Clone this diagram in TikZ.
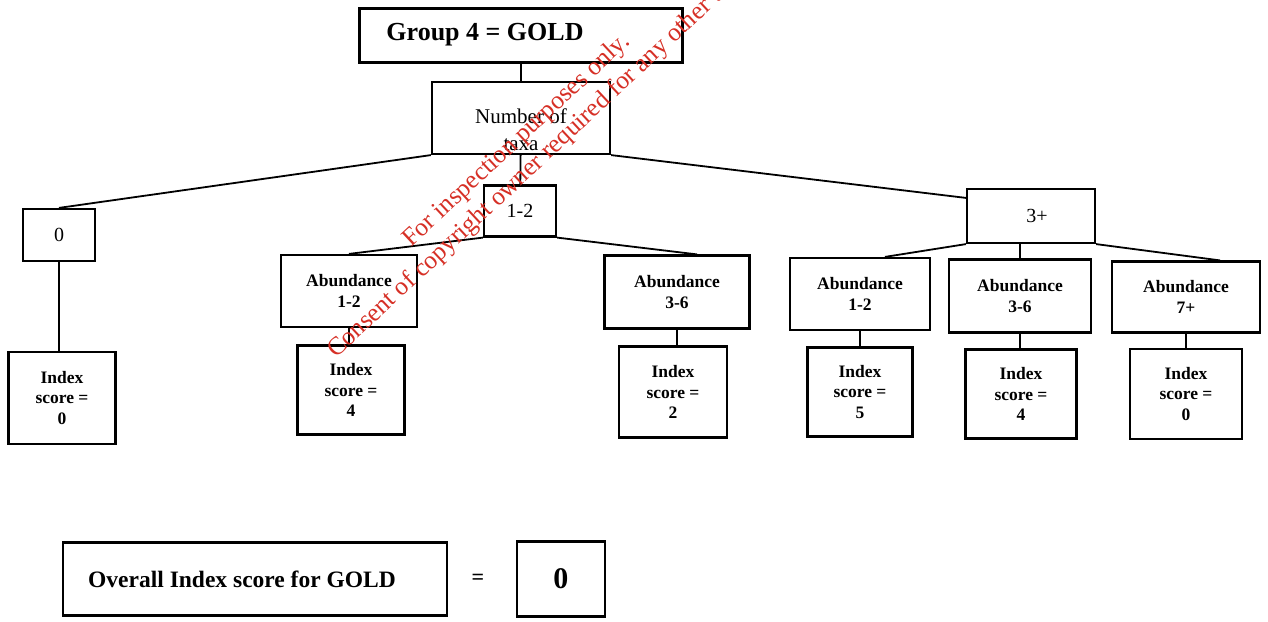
\documentclass[tikz,border=0pt]{standalone}
\usepackage{fontspec}
\setmainfont{Liberation Serif}
\usetikzlibrary{positioning}
\definecolor{stampred}{RGB}{214,48,38}

\begin{document}
\begin{tikzpicture}[
    x=1pt, y=-1pt,
    box/.style={draw, line width=2.2pt, align=center, inner sep=2pt},
    small/.style={font=\fontsize{17.5}{20.5}\selectfont\bfseries},
    plain/.style={font=\fontsize{20}{24}\selectfont},
    link/.style={line width=1.8pt},
    stamp/.style={text=stampred, font=\fontsize{25.5}{30}\selectfont, align=center, rotate=43, inner sep=0pt}
  ]
    \useasboundingbox (0,0) rectangle (1268,621);

    % tree
    \node[box, line width=3pt, minimum width=323pt, minimum height=54pt, font=\fontsize{26}{30}\selectfont\bfseries] (group) at (521,35) {Group 4 = GOLD\hspace*{72pt}};
    \node[box, inner ysep=0pt, minimum width=178pt, minimum height=72pt, font=\fontsize{21}{27}\selectfont] (taxa) at (521,118) {\rule{0pt}{38pt}Number of\\taxa};
    \node[box, plain, minimum width=72pt, minimum height=52pt] (none) at (59,235) {0};
    \node[box, plain, minimum width=72pt, minimum height=51pt] (few) at (520,211) {1-2};
    \node[box, plain, minimum width=128pt, minimum height=54pt] (many) at (1031,216) {\hspace*{12pt}3+};

    \node[box, small, minimum width=136pt, minimum height=72pt] (fewlo) at (349,291) {Abundance\\1-2};
    \node[box, small, minimum width=145pt, minimum height=73pt] (fewhi) at (677,292) {Abundance\\3-6};
    \node[box, small, minimum width=140pt, minimum height=72pt] (manylo) at (860,294) {Abundance\\1-2};
    \node[box, small, minimum width=142pt, minimum height=73pt] (manymid) at (1020,296) {Abundance\\3-6};
    \node[box, small, minimum width=148pt, minimum height=71pt] (manyhi) at (1186,297) {Abundance\\7+};

    \node[box, small, minimum width=107pt, minimum height=92pt] (scnone) at (62,398) {Index\\score =\\0};
    \node[box, small, minimum width=107pt, minimum height=89pt] (scfewlo) at (351,390) {Index\\score =\\4};
    \node[box, small, minimum width=108pt, minimum height=91pt] (scfewhi) at (673,392) {Index\\score =\\2};
    \node[box, small, minimum width=105pt, minimum height=89pt] (scmanylo) at (860,392) {Index\\score =\\5};
    \node[box, small, minimum width=111pt, minimum height=89pt] (scmanymid) at (1021,394) {Index\\score =\\4};
    \node[box, small, minimum width=112pt, minimum height=90pt] (scmanyhi) at (1186,394) {Index\\score =\\0};

    \draw[link] (group) -- (taxa);
    \draw[link] (taxa.south west) -- (none.north);
    \draw[link] (taxa) -- (few);
    \draw[link] (taxa.south east) -- ([yshift=-10pt]many.north west);
    \draw[link] (few.south west) -- (fewlo.north);
    \draw[link] (few.south east) -- ([xshift=20pt]fewhi.north);
    \draw[link] (many.south west) -- ([xshift=25pt]manylo.north);
    \draw[link] (manymid.north) -- (manymid.north |- many.south);
    \draw[link] (many.south east) -- ([xshift=34pt]manyhi.north);
    \foreach \a/\b in {none/scnone, fewlo/scfewlo, fewhi/scfewhi, manylo/scmanylo, manymid/scmanymid, manyhi/scmanyhi}
      \draw[link] (\a.south) -- (\a.south |- \b.north);

    % result line
    \node[box, minimum width=384pt, minimum height=73pt, font=\fontsize{23.5}{27}\selectfont\bfseries] (overall) at (255,579) {Overall Index score for GOLD\hspace*{26pt}};
    \node[font=\fontsize{22}{26}\selectfont\bfseries, right=20pt of overall] (equals) {=};
    \node[box, minimum width=88pt, minimum height=75pt, font=\fontsize{30}{34}\selectfont\bfseries, right=28pt of equals] (total) {0};

    \node[stamp] (notice) at (527,152) {For inspection purposes only.\\Consent of copyright owner required for any other use.};
  \end{tikzpicture}
\end{document}
